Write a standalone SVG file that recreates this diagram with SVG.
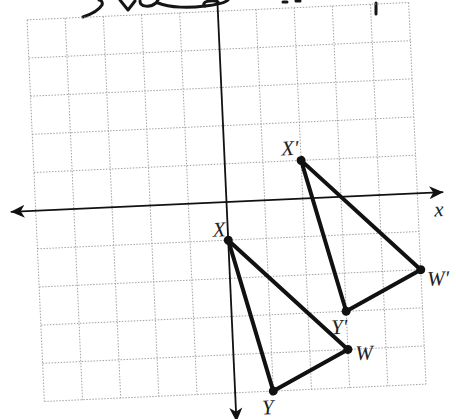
<svg xmlns="http://www.w3.org/2000/svg" width="456" height="419" viewBox="0 0 456 419">
<style>
.grid{stroke:#9a9a9a;stroke-width:0.9;stroke-dasharray:1.5 1.5;fill:none}
.axis{stroke:#111;stroke-width:1.8;fill:none}
.tri{stroke:#111;stroke-width:4;fill:none;stroke-linejoin:round}
.pt{fill:#111}
.lbl{font-family:"Liberation Serif","DejaVu Serif",serif;font-style:italic;font-size:21px;fill:#222}
.ink{stroke:#151515;stroke-width:3;fill:none;stroke-linecap:round;stroke-linejoin:round}
</style>
<defs>
<marker id="arr" markerWidth="18" markerHeight="14" refX="14" refY="7" orient="auto" markerUnits="userSpaceOnUse">
<path d="M14,7 L0,0.5 L4,7 L0,13.5 Z" fill="#111"/>
</marker>
<marker id="arrS" markerWidth="18" markerHeight="14" refX="14" refY="7" orient="auto-start-reverse" markerUnits="userSpaceOnUse">
<path d="M14,7 L0,0.5 L4,7 L0,13.5 Z" fill="#111"/>
</marker>
</defs>
<rect width="456" height="419" fill="#fff"/>
<g id="handwriting">
<path class="ink" d="M83,17 C92,14 99,10 102,5 C103,2 101,0 99,0"/>
<path class="ink" d="M120,0 L128,10 L135,1"/>
<path class="ink" d="M140,1 C140,7 150,8 156,3 L158,0"/>
<path class="ink" d="M158,3 C170,8 190,8 205,6 C215,5 225,3 228,0"/>
<path class="ink" d="M205,6 C200,2 212,-1 218,2" />
<path class="ink" d="M283,2 L287,2 M296,1 L300,1"/>
<path class="ink" d="M376,3 L376,14"/>
</g>
<g transform="translate(226.5,202) rotate(-2.6)">
<g id="grid">
<path class="grid" d="M-191,-191V191M-152.8,-191V191M-114.6,-191V191M-76.4,-191V191M-38.2,-191V191M38.2,-191V191M76.4,-191V191M114.6,-191V191M152.8,-191V191M191,-191V191"/>
<path class="grid" d="M-191,-191H191M-191,-152.8H191M-191,-114.6H191M-191,-76.4H191M-191,-38.2H191M-191,38.2H191M-191,76.4H191M-191,114.6H191M-191,152.8H191M-191,191H191"/>
</g>
<g id="connectors">
<line id="x-axis" class="axis" x1="-216" y1="0" x2="217" y2="0" marker-start="url(#arrS)" marker-end="url(#arr)"/>
<line id="y-axis" class="axis" x1="0" y1="-225" x2="0" y2="220" stroke-width="1.4" marker-end="url(#arr)"/>
<polygon id="tri-XYW" class="tri" points="0,38.2 38.2,191 114.6,152.8"/>
<polygon id="tri-XpYpWp" class="tri" points="76.4,-38.2 114.6,114.6 191,76.4"/>
</g>
<g id="node-X"><circle class="pt" cx="0" cy="38.2" r="4.5"/><text class="lbl" x="-15" y="34">X</text></g>
<g id="node-Y"><circle class="pt" cx="38.2" cy="191" r="4.5"/><text class="lbl" x="26" y="214">Y</text></g>
<g id="node-W"><circle class="pt" cx="114.6" cy="152.8" r="4.5"/><text class="lbl" x="122" y="164">W</text></g>
<g id="node-Xp"><circle class="pt" cx="76.4" cy="-38.2" r="4.5"/><text class="lbl" x="57" y="-44">X′</text></g>
<g id="node-Yp"><circle class="pt" cx="114.6" cy="114.6" r="4.5"/><text class="lbl" x="99" y="137">Y′</text></g>
<g id="node-Wp"><circle class="pt" cx="191" cy="76.4" r="4.5"/><text class="lbl" x="197" y="93">W′</text></g>
<text class="lbl" x="207" y="24" font-size="18">x</text>
</g>
</svg>
